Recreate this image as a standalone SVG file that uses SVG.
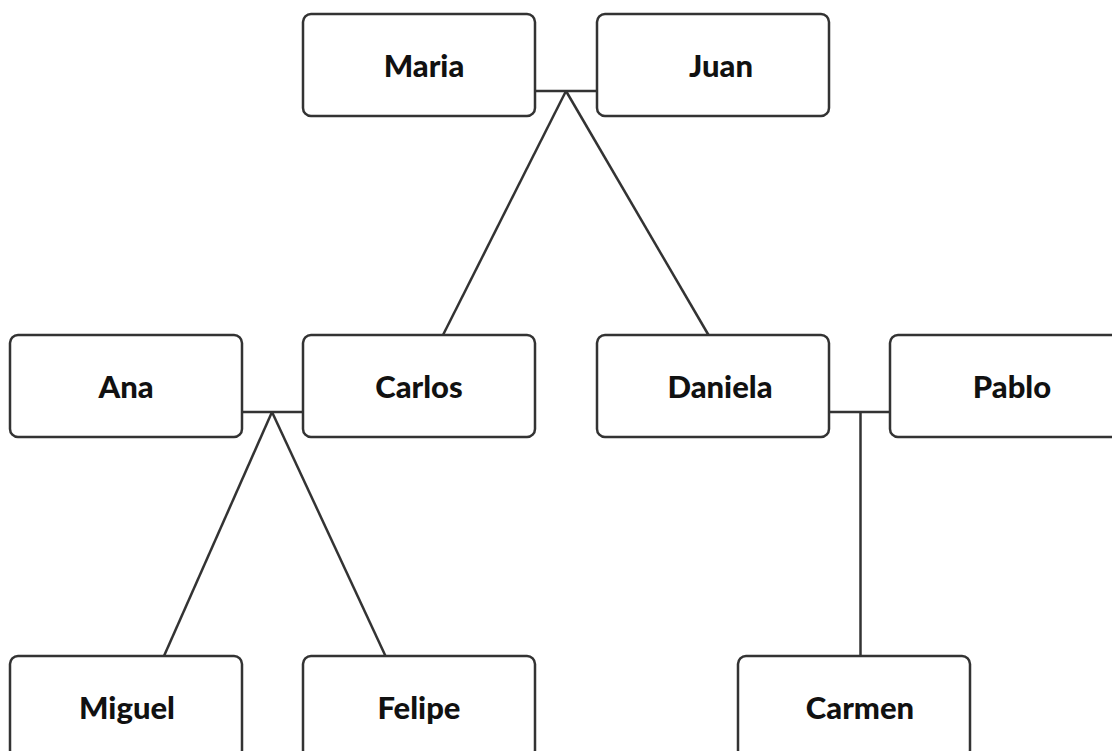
<svg xmlns="http://www.w3.org/2000/svg" width="1112" height="751" viewBox="0 0 1112 751">
<style>
.box{fill:#ffffff;stroke:#333333;stroke-width:2.5}
.lbl{font-family:Lato,"Liberation Sans",sans-serif;font-weight:900;font-size:31px;fill:#111111;text-anchor:middle}
.edge{stroke:#333333;stroke-width:2.5;fill:none}
</style>
<rect width="1112" height="751" fill="#ffffff"/>
<g id="connectors">
<line class="edge" x1="535" y1="91" x2="597" y2="91"/>
<line class="edge" x1="566" y1="91" x2="443" y2="335"/>
<line class="edge" x1="566" y1="91" x2="708.5" y2="335"/>
<line class="edge" x1="242" y1="412" x2="303" y2="412"/>
<line class="edge" x1="272" y1="412" x2="164" y2="656"/>
<line class="edge" x1="272" y1="412" x2="385.5" y2="656"/>
<line class="edge" x1="829" y1="412" x2="890" y2="412"/>
<line class="edge" x1="860.5" y1="412" x2="860.5" y2="656"/>
</g>
<g id="maria"><rect class="box" x="303" y="14" width="232" height="102" rx="8"/><text class="lbl" x="424" y="77">Maria</text></g>
<g id="juan"><rect class="box" x="597" y="14" width="232" height="102" rx="8"/><text class="lbl" x="721" y="77">Juan</text></g>
<g id="ana"><rect class="box" x="10" y="335" width="232" height="102" rx="8"/><text class="lbl" x="126" y="398">Ana</text></g>
<g id="carlos"><rect class="box" x="303" y="335" width="232" height="102" rx="8"/><text class="lbl" x="419" y="398">Carlos</text></g>
<g id="daniela"><rect class="box" x="597" y="335" width="232" height="102" rx="8"/><text class="lbl" x="720" y="398">Daniela</text></g>
<g id="pablo"><rect class="box" x="890" y="335" width="232" height="102" rx="8"/><text class="lbl" x="1012" y="398">Pablo</text></g>
<g id="miguel"><rect class="box" x="10" y="656" width="232" height="102" rx="8"/><text class="lbl" x="127" y="719">Miguel</text></g>
<g id="felipe"><rect class="box" x="303" y="656" width="232" height="102" rx="8"/><text class="lbl" x="419" y="719">Felipe</text></g>
<g id="carmen"><rect class="box" x="738" y="656" width="232" height="102" rx="8"/><text class="lbl" x="860" y="719">Carmen</text></g>
</svg>
